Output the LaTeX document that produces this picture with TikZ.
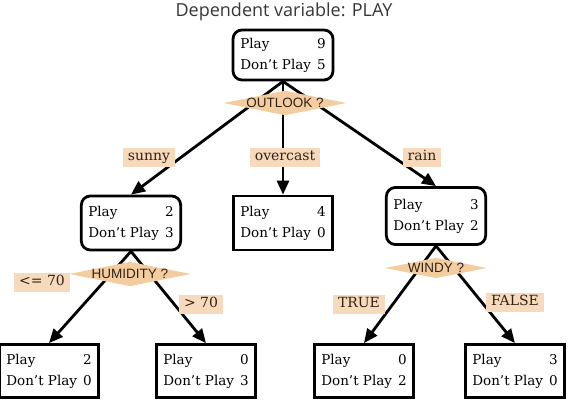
\documentclass[tikz,border=0pt]{standalone}
\usepackage{fontspec}
\setmainfont{DejaVu Serif}
\newfontfamily\testfont{Liberation Sans}
\newfontfamily\titlefont{Open Sans}
\usetikzlibrary{arrows.meta,shapes.geometric}
\definecolor{peach}{RGB}{243,205,160}
\definecolor{labelfill}{RGB}{247,218,188}
\definecolor{inkbrown}{RGB}{50,34,22}
\definecolor{titlegray}{RGB}{55,55,55}
\newcommand{\tally}[2]{\begin{tabular}{@{}l@{\hspace{6pt}}r@{}}Play & #1\\ Don't Play & #2\end{tabular}}
\begin{document}
\begin{tikzpicture}[
    x=1pt, y=-1pt,
    box/.style={draw, line width=2.8pt, rounded corners=9pt, inner xsep=7pt, inner ysep=4pt,
        minimum width=98pt, minimum height=54pt, font=\fontsize{13.5}{21}\selectfont},
    leaf/.style={box, sharp corners, minimum width=92pt, minimum height=53pt},
    test/.style={diamond, aspect=5, fill=peach, text=inkbrown, inner xsep=-1pt, inner ysep=0pt,
        font=\testfont\fontsize{13.5}{13.5}\selectfont, text height=9.5pt, text depth=0pt},
    branch/.style={fill=labelfill, text=inkbrown, inner xsep=5pt, inner ysep=3pt,
        font=\fontsize{14}{14}\selectfont, text height=10pt, text depth=3pt},
    arr/.style={line width=2.8pt, -{Triangle[length=14pt,width=12pt]}}
]
\useasboundingbox (0,0) rectangle (573,404);
\node[font=\titlefont\fontsize{18}{18}\selectfont, text=titlegray] (title) at (284,12) {Dependent variable: PLAY};
% tree boxes
\node[box, minimum width=100pt, minimum height=46pt] (root) at (283,55) {\tally{9}{5}};
\node[box] (sunny) at (131,223) {\tally{2}{3}};
\node[leaf, minimum width=98pt, minimum height=54pt] (overcast) at (283,223) {\tally{4}{0}};
\node[box, minimum height=57pt] (rain) at (436,216) {\tally{3}{2}};
\node[leaf, minimum width=88pt] (humlow) at (49,371) {\tally{2}{0}};
\node[leaf, minimum width=97pt] (humhigh) at (206,371) {\tally{0}{3}};
\node[leaf, minimum width=95pt] (windtrue) at (364,371) {\tally{0}{2}};
\node[leaf, minimum width=90pt] (windfalse) at (515,371) {\tally{3}{0}};
% branches
\draw[arr] (root.south) -- (sunny.north);
\draw[arr] (root.south) -- (overcast.north);
\draw[arr] (root.south) -- (rain.north);
\draw[arr] (sunny.south) -- (humlow.north);
\draw[arr] (sunny.south) -- (humhigh.north);
\draw[arr] (rain.south) -- (windtrue.north);
\draw[arr] (rain.south) -- (windfalse.north);
% tests
\node[test] (outlook) at (285,103) {OUTLOOK ?};
\node[test] (humidity) at (130,274) {HUMIDITY ?};
\node[test] (windy) at (436,268) {WINDY ?};
% branch labels
\node[branch] (lsunny) at (149,157) {sunny};
\node[branch] (lovercast) at (285,157) {overcast};
\node[branch] (lrain) at (422,157) {rain};
\node[branch] (llow) at (42,282) {<= 70};
\node[branch] (lhigh) at (201,304) {> 70};
\node[branch] (ltrue) at (359,304) {TRUE};
\node[branch] (lfalse) at (515,302) {FALSE};
\end{tikzpicture}
\end{document}
